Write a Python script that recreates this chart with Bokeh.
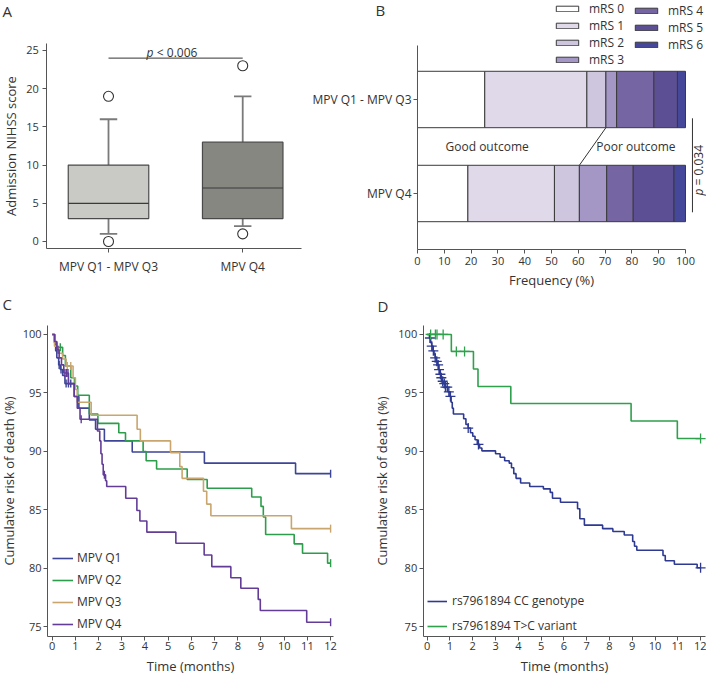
import numpy as np
from bokeh.plotting import figure
from bokeh.models import ColumnDataSource, Label, Legend, LegendItem, FixedTicker, Range1d
from bokeh.layouts import row
from bokeh.embed import file_html
from bokeh.resources import INLINE

FONT = "Open Sans"
TXT = "#333333"

# ---------------- Panel A data ----------------
a_groups = ["MPV Q1 - MPV Q3", "MPV Q4"]
a_x = [1, 2]
a_q1 = [3, 3]
a_median = [5, 7]
a_q3 = [10, 13]
a_low = [1, 2]
a_high = [16, 19]
a_outliers = [[0, 19], [1, 23]]
a_bracket_y = 24
a_p_text = "< 0.006"
a_colors = ["#c9c9c5", "#878782"]

# ---------------- Panel B data ----------------
b_groups = ["MPV Q1 - MPV Q3", "MPV Q4"]
b_y = [2, 1]
mrs_labels = ["mRS 0", "mRS 1", "mRS 2", "mRS 3", "mRS 4", "mRS 5", "mRS 6"]
b_q13 = [25.1, 38.1, 7.1, 4.0, 13.9, 8.8, 3.0]
b_q4 = [18.8, 32.3, 9.3, 10.2, 9.9, 15.2, 4.3]
mrs_colors = ["#ffffff", "#e0d9ea", "#cdc6de", "#a497c5", "#7565a2", "#5d4f94", "#45479a"]
b_p_text = "= 0.034"

# ---------------- Panel C data ----------------
q1_t = [0, 0.1, 0.15, 0.2, 0.28, 0.35, 0.45, 0.55, 0.95, 1.15, 1.6, 1.87, 2.25, 3.45, 6.56, 10.49, 12.0]
q1_v = [100, 99.3, 98.6, 98.0, 97.4, 97.0, 96.5, 95.8, 94.7, 93.7, 92.7, 91.9, 90.9, 89.95, 89.0, 88.1, 88.1]
q1_c = [0.3, 0.38, 0.6, 0.7, 0.8, 12.0]

q2_t = [0, 0.12, 0.2, 0.45, 0.57, 0.8, 0.96, 1.1, 1.6, 1.97, 2.87, 3.16, 3.92, 4.05, 4.5, 5.82, 6.68,
        8.6, 9.0, 9.1, 9.2, 10.43, 10.79, 11.87, 12.0]
q2_v = [100, 99.3, 98.9, 98.2, 97.3, 96.3, 95.6, 94.8, 93.2, 92.4, 91.6, 90.9, 90.0, 89.2, 88.5, 87.6, 86.85,
        86.1, 85.3, 84.4, 82.9, 82.1, 81.3, 80.45, 80.45]
q2_c = [0.35, 12.0]

q3_t = [0, 0.1, 0.25, 0.45, 0.6, 0.9, 1.0, 1.08, 1.68, 3.66, 3.8, 5.1, 5.5, 5.6, 6.52, 6.66, 6.84, 10.31, 12.0]
q3_v = [100, 99.0, 98.4, 97.9, 97.3, 96.3, 95.3, 94.2, 93.1, 91.9, 90.9, 89.9, 88.7, 87.7, 86.6, 85.5, 84.5, 83.4, 83.4]
q3_c = [0.65, 0.8, 12.0]

q4_t = [0, 0.1, 0.2, 0.3, 0.4, 0.5, 0.7, 0.95, 1.08, 1.2, 1.95, 2.05, 2.1, 2.15, 2.2, 2.3, 2.35, 3.17, 3.65,
        3.78, 4.08, 5.33, 6.55, 6.88, 7.7, 8.13, 8.88, 8.97, 10.97, 12.0]
q4_v = [100, 99.4, 98.7, 98.0, 97.4, 96.7, 95.8, 94.7, 93.7, 92.75, 91.75, 90.9, 89.8, 88.9, 88.0, 87.5, 87.0,
        86.0, 84.95, 84.05, 83.1, 82.15, 81.15, 80.15, 79.2, 78.3, 77.35, 76.4, 75.4, 75.4]
q4_c = [0.25, 0.55, 0.62, 0.68, 1.25, 2.25, 12.0]

c_names = ["MPV Q1", "MPV Q2", "MPV Q3", "MPV Q4"]
c_colors = ["#3c4596", "#2c9e4b", "#c8a66e", "#633c98"]

# ---------------- Panel D data ----------------
cc_t = [0, 0.1, 0.15, 0.2, 0.25, 0.3, 0.35, 0.4, 0.45, 0.5, 0.55, 0.6, 0.65, 0.7, 0.8, 0.9, 1.0, 1.05, 1.1,
        1.15, 1.6, 1.7, 1.8, 1.9, 2.0, 2.1, 2.2, 2.3, 2.4, 3.0, 3.2, 3.4, 3.6, 3.7, 3.8, 3.9, 4.1, 4.5, 5.1,
        5.4, 5.5, 5.85, 6.6, 6.7, 6.9, 7.7, 8.15, 8.65, 9.02, 9.1, 9.2, 10.35, 10.45, 10.85, 11.85, 12.0]
cc_v = [100, 99.7, 99.3, 99.0, 98.6, 98.3, 98.0, 97.7, 97.4, 97.0, 96.6, 96.3, 96.0, 95.8, 95.5, 95.1, 94.7,
        94.2, 93.7, 93.2, 92.8, 92.3, 92.0, 91.6, 91.3, 91.0, 90.6, 90.3, 90.05, 89.8, 89.5, 89.2, 89.0, 88.6,
        88.1, 87.7, 87.3, 87.0, 86.8, 86.5, 86.0, 85.65, 85.1, 84.25, 83.7, 83.4, 83.15, 82.85, 82.3, 81.9,
        81.55, 81.1, 80.65, 80.35, 80.05, 80.05]
cc_c = [0.12, 0.2, 0.27, 0.35, 0.42, 0.48, 0.52, 0.58, 0.62, 0.68, 0.75, 0.8, 0.88, 0.95, 1.02, 1.8, 2.25, 12.0]

tc_t = [0, 1.06, 2.03, 2.23, 3.67, 8.95, 10.98, 12.0]
tc_v = [100, 98.55, 97.05, 95.55, 94.1, 92.6, 91.1, 91.1]
tc_c = [0.15, 0.36, 0.43, 0.7, 1.28, 1.64, 12.0]

d_names = ["rs7961894 CC genotype", "rs7961894 T>C variant"]
d_colors = ["#2e3a92", "#2fa04c"]


def make_fig(w, h, xr, yr):
    p = figure(width=w, height=h, x_range=Range1d(*xr), y_range=Range1d(*yr),
               output_backend="svg", toolbar_location=None,
               min_border_left=0, min_border_right=0, min_border_top=0, min_border_bottom=0)
    p.outline_line_color = None
    p.xgrid.grid_line_color = None
    p.ygrid.grid_line_color = None
    for ax in p.axis:
        ax.axis_line_color = "#555555"
        ax.axis_line_width = 1
        ax.major_tick_line_color = "#555555"
        ax.minor_tick_line_color = None
        ax.major_tick_in = 0
        ax.major_tick_out = 4
        ax.major_label_text_font = FONT
        ax.major_label_text_font_size = "11px"
        ax.major_label_text_color = TXT
        ax.axis_label_text_font = FONT
        ax.axis_label_text_font_size = "13px"
        ax.axis_label_text_font_style = "normal"
        ax.axis_label_text_color = TXT
    return p


def letter(p, text, x, y):
    p.add_layout(Label(x=x, y=y, x_units="screen", y_units="screen", text=text,
                       text_font=FONT, text_font_size="15px", text_color=TXT,
                       text_baseline="top", text_align="left"))


def step_at(ts, vs, cs):
    idx = np.searchsorted(np.array(ts), np.array(cs), side="right") - 1
    return [vs[i] for i in idx]


def legend(items, loc, gw, gh, lh, sp, lw=20, stand=5):
    return Legend(items=items, location=loc, orientation="vertical",
                  glyph_width=gw, glyph_height=gh, label_standoff=stand, label_width=lw, label_height=lh,
                  spacing=sp, padding=0, margin=0, border_line_color=None, background_fill_alpha=0,
                  label_text_font=FONT, label_text_font_size="12px", label_text_color=TXT)


TOP_H = 288
BOT_H = 386

# ================= Panel A =================
pa = make_fig(312, TOP_H, (0.1952, 2.520), (-6.152, 31.54))
xa = np.array(a_x, dtype=float)
pa.segment(x0=xa, y0=a_q3, x1=xa, y1=a_high, line_color="#7a7a7a", line_width=1.8)
pa.segment(x0=xa, y0=a_q1, x1=xa, y1=a_low, line_color="#7a7a7a", line_width=1.8)
pa.segment(x0=xa - 0.065, y0=a_high, x1=xa + 0.065, y1=a_high, line_color="#7a7a7a", line_width=1.8)
pa.segment(x0=xa - 0.065, y0=a_low, x1=xa + 0.065, y1=a_low, line_color="#7a7a7a", line_width=1.8)
pa.vbar(x=xa, width=0.6, bottom=a_q1, top=a_q3, fill_color=a_colors, line_color="#4a4a4a", line_width=1.2)
pa.segment(x0=xa - 0.3, y0=a_median, x1=xa + 0.3, y1=a_median, line_color="#3a3a3a", line_width=1.2)
ox, oy = [], []
for xi, outs in zip(a_x, a_outliers):
    for o in outs:
        ox.append(xi)
        oy.append(o)
pa.scatter(x=ox, y=oy, marker="circle", size=10, fill_color="white", line_color="#333333", line_width=1.1)
pa.segment(x0=[a_x[0]], y0=[a_bracket_y], x1=[a_x[1]], y1=[a_bracket_y], line_color="#333333", line_width=1)
pa.add_layout(Label(x=1.284, y=24.75, text="p", text_font=FONT, text_font_size="12px",
                    text_font_style="italic", text_color=TXT, text_baseline="alphabetic"))
pa.add_layout(Label(x=1.36, y=24.75, text=a_p_text, text_font=FONT, text_font_size="12px",
                    text_color=TXT, text_baseline="alphabetic"))
pa.xaxis.fixed_location = -0.92
pa.xaxis.bounds = (0.54, 2.44)
pa.yaxis.fixed_location = 0.54
pa.yaxis.bounds = (-0.92, 25.9)
pa.xaxis.ticker = FixedTicker(ticks=a_x)
pa.xaxis.major_label_overrides = {a_x[i]: a_groups[i] for i in range(2)}
pa.xaxis.major_label_text_font_size = "12px"
pa.xaxis.major_label_standoff = 5
pa.yaxis.ticker = FixedTicker(ticks=[0, 5, 10, 15, 20, 25])
pa.yaxis.axis_label = "Admission NIHSS score"
pa.yaxis.major_label_standoff = 4
pa.yaxis.axis_label_standoff = 3
letter(pa, "A", 2, TOP_H)

# ================= Panel B =================
pb = make_fig(394, TOP_H, (-39.18, 107.84), (-0.0106, 3.053))
cum13 = np.concatenate([[0], np.cumsum(b_q13)])
cum4 = np.concatenate([[0], np.cumsum(b_q4)])
items = []
for i, lab in enumerate(mrs_labels):
    src = ColumnDataSource(dict(y=b_y, left=[cum13[i], cum4[i]], right=[cum13[i + 1], cum4[i + 1]]))
    r = pb.hbar(y="y", height=0.6, left="left", right="right", source=src,
                fill_color=mrs_colors[i], line_color="#3a3a3a", line_width=1)
    items.append(LegendItem(label=lab, renderers=[r]))
pb.line(x=[cum13[3], cum4[3]], y=[b_y[0] - 0.3, b_y[1] + 0.3], line_color="#333333", line_width=1)
pb.add_layout(Label(x=26, y=1.5, text="Good outcome", text_font=FONT, text_font_size="12px",
                    text_color=TXT, text_align="center", text_baseline="middle"))
pb.add_layout(Label(x=81.5, y=1.5, text="Poor outcome", text_font=FONT, text_font_size="12px",
                    text_color=TXT, text_align="center", text_baseline="middle"))
pb.segment(x0=[102.6], y0=[0.8], x1=[102.6], y1=[1.8], line_color="#333333", line_width=1)
pb.add_layout(Label(x=104.9, y=0.98, text="p", angle=np.pi / 2, text_font=FONT, text_font_size="12px",
                    text_font_style="italic", text_color=TXT, text_baseline="middle", text_align="left"))
pb.add_layout(Label(x=104.9, y=1.085, text=b_p_text, angle=np.pi / 2, text_font=FONT, text_font_size="12px",
                    text_color=TXT, text_baseline="middle", text_align="left"))
pb.xaxis.fixed_location = 0.404
pb.xaxis.bounds = (0, 100)
pb.yaxis.fixed_location = 0
pb.yaxis.bounds = (0.404, 2.574)
pb.xaxis.ticker = FixedTicker(ticks=list(range(0, 101, 10)))
pb.yaxis.ticker = FixedTicker(ticks=b_y)
pb.yaxis.major_label_overrides = {b_y[i]: b_groups[i] for i in range(2)}
pb.yaxis.major_label_text_font_size = "12px"
pb.yaxis.major_label_standoff = 2
pb.xaxis.major_label_standoff = 3
pb.xaxis.axis_label = "Frequency (%)"
pb.xaxis.axis_label_standoff = 3
pb.add_layout(legend(items[:4], (241, 220), 28, 7, 14, 0, lw=40, stand=8))
pb.add_layout(legend(items[4:], (320, 235), 28, 7, 14, 0, lw=40, stand=8))
letter(pb, "B", 63, TOP_H + 1)

# ================= Panel C =================
pc = make_fig(363, BOT_H, (-2.228, 13.418), (70.93, 103.93))
c_items = []
for ts, vs, cs, col, name in zip([q1_t, q2_t, q3_t, q4_t], [q1_v, q2_v, q3_v, q4_v],
                                 [q1_c, q2_c, q3_c, q4_c], c_colors, c_names):
    r = pc.step(x=ts, y=vs, mode="after", line_color=col, line_width=1.6)
    pc.scatter(x=cs, y=step_at(ts, vs, cs), marker="dash", angle=np.pi / 2, size=8,
               line_color=col, line_width=1.4)
    c_items.append(LegendItem(label=name, renderers=[r]))
pc.xaxis.fixed_location = 74.18
pc.xaxis.bounds = (-0.2, 12.12)
pc.yaxis.fixed_location = -0.2
pc.yaxis.bounds = (74.18, 100.76)
pc.xaxis.ticker = FixedTicker(ticks=list(range(0, 13)))
pc.yaxis.ticker = FixedTicker(ticks=[75, 80, 85, 90, 95, 100])
pc.xaxis.axis_label = "Time (months)"
pc.yaxis.axis_label = "Cumulative risk of death (%)"
pc.xaxis.major_label_standoff = 2
pc.xaxis.axis_label_standoff = 3
pc.yaxis.major_label_standoff = 2
pc.yaxis.axis_label_standoff = 2
pc.add_layout(legend(c_items, (52, 42), 21, 16, 16, 5, stand=4))
letter(pc, "C", 2, BOT_H - 5)

# ================= Panel D =================
pdd = make_fig(343, BOT_H, (-2.796, 12.26), (70.93, 103.93))
d_items = []
for ts, vs, cs, col, name in zip([cc_t, tc_t], [cc_v, tc_v], [cc_c, tc_c], d_colors, d_names):
    r = pdd.step(x=ts, y=vs, mode="after", line_color=col, line_width=1.6)
    pdd.scatter(x=cs, y=step_at(ts, vs, cs), marker="cross", size=10, line_color=col, line_width=1.3)
    d_items.append(LegendItem(label=name, renderers=[r]))
pdd.xaxis.fixed_location = 74.18
pdd.xaxis.bounds = (-0.176, 12.2)
pdd.yaxis.fixed_location = -0.176
pdd.yaxis.bounds = (74.18, 100.76)
pdd.xaxis.ticker = FixedTicker(ticks=list(range(0, 13)))
pdd.yaxis.ticker = FixedTicker(ticks=[75, 80, 85, 90, 95, 100])
pdd.xaxis.axis_label = "Time (months)"
pdd.yaxis.axis_label = "Cumulative risk of death (%)"
pdd.xaxis.major_label_standoff = 2
pdd.xaxis.axis_label_standoff = 3
pdd.yaxis.major_label_standoff = 2
pdd.yaxis.axis_label_standoff = 5
pdd.add_layout(legend(d_items, (64, 40), 20, 16, 16, 8, stand=5))
letter(pdd, "D", 14, BOT_H - 7)

top = row(pa, pb)
bottom = row(pc, pdd)
open("out.html", "w").write(file_html([top, bottom], INLINE))
